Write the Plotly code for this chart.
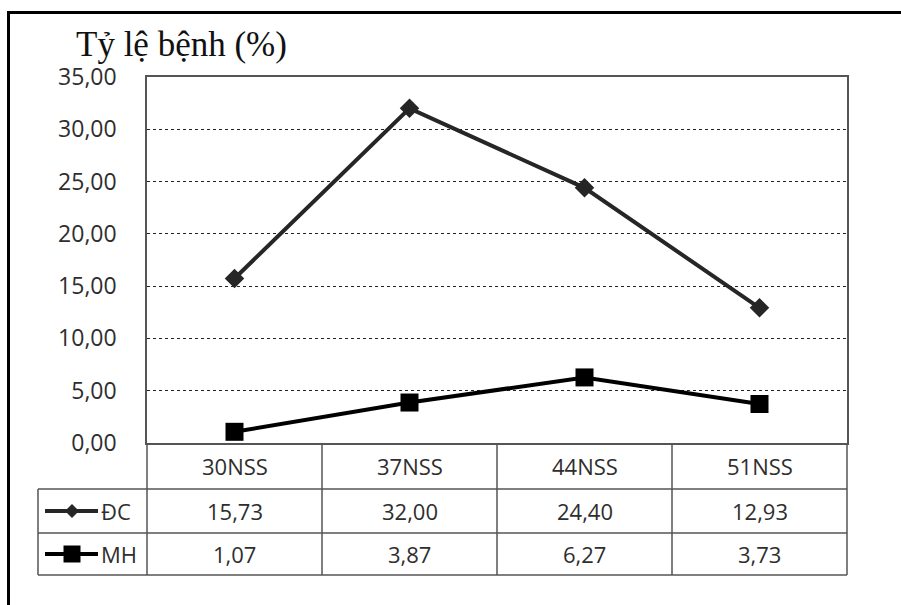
import plotly.graph_objects as go

# Data
categories = ["30NSS", "37NSS", "44NSS", "51NSS"]
series_names = ["ĐC", "MH"]
dc_values = [15.73, 32.00, 24.40, 12.93]
mh_values = [1.07, 3.87, 6.27, 3.73]
y_ticks = [0, 5, 10, 15, 20, 25, 30, 35]
title_text = "Tỷ lệ bệnh (%)"

W, H = 901, 605


def px(x):
    return x / W


def py(y):
    return 1 - y / H


# Layout geometry (pixels)
PLOT_L, PLOT_R, PLOT_T, PLOT_B = 147, 847, 77, 443
ROW1_B, ROW2_B, ROW3_B = 489, 533, 575
LEG_L = 38
col_edges = [PLOT_L + i * (PLOT_R - PLOT_L) / len(categories) for i in range(len(categories) + 1)]

SANS = "'Open Sans', Lato, sans-serif"
SERIF = "'Liberation Serif', 'DejaVu Serif', serif"
TEXT_COL = "#2e2e2e"
GRID_COL = "#555555"
TABLE_FONT = dict(family=SANS, size=22, color=TEXT_COL)


def fmt(v):
    return f"{v:.2f}".replace(".", ",")


fig = go.Figure()
fig.add_trace(go.Scatter(
    x=categories, y=dc_values, name=series_names[0], mode="lines+markers",
    line=dict(color="#262626", width=4),
    marker=dict(symbol="diamond", size=15, color="#262626"),
    showlegend=False, cliponaxis=False,
))
fig.add_trace(go.Scatter(
    x=categories, y=mh_values, name=series_names[1], mode="lines+markers",
    line=dict(color="#000000", width=4),
    marker=dict(symbol="square", size=18, color="#000000"),
    showlegend=False, cliponaxis=False,
))

shapes = []


def hline(x0, x1, y, color=GRID_COL, width=1.5):
    shapes.append(dict(type="line", xref="paper", yref="paper",
                       x0=px(x0), x1=px(x1), y0=py(y), y1=py(y),
                       line=dict(color=color, width=width)))


def vline(x, y0, y1, color=GRID_COL, width=1.5):
    shapes.append(dict(type="line", xref="paper", yref="paper",
                       x0=px(x), x1=px(x), y0=py(y0), y1=py(y1),
                       line=dict(color=color, width=width)))


# outer frame (left and top edges)
hline(7, W + 5, 12.5, color="#000000", width=3)
vline(8.5, 11, H + 5, color="#000000", width=3)

# data table grid
hline(LEG_L, PLOT_R, ROW1_B)
hline(LEG_L, PLOT_R, ROW2_B)
hline(LEG_L, PLOT_R, ROW3_B)
for x in col_edges:
    vline(x, PLOT_B, ROW3_B)
vline(LEG_L, ROW1_B, ROW3_B)

annotations = []

# legend keys inside the table
rows = [((ROW1_B + ROW2_B) / 2, dc_values, series_names[0], "diamond"),
        ((ROW2_B + ROW3_B) / 2, mh_values, series_names[1], "square")]
for yc, vals, name, sym in rows:
    color = "#262626" if sym == "diamond" else "#000000"
    hline(45, 98, yc, color=color, width=4)
    if sym == "diamond":
        d = 7
        shapes.append(dict(type="path", xref="paper", yref="paper",
                           path=f"M {px(72)} {py(yc - d)} L {px(72 + d)} {py(yc)} "
                                f"L {px(72)} {py(yc + d)} L {px(72 - d)} {py(yc)} Z",
                           fillcolor=color, line=dict(color=color, width=0)))
    else:
        s = 8.5
        shapes.append(dict(type="rect", xref="paper", yref="paper",
                           x0=px(72 - s), x1=px(72 + s), y0=py(yc - s), y1=py(yc + s),
                           fillcolor=color, line=dict(color=color, width=0)))
    annotations.append(dict(text=name, xref="paper", yref="paper",
                            x=px(99), y=py(yc), xanchor="left", yanchor="middle",
                            showarrow=False, font=TABLE_FONT))
    for cat, v in zip(categories, vals):
        annotations.append(dict(text=fmt(v), xref="x", yref="paper",
                                x=cat, y=py(yc), xanchor="center", yanchor="middle",
                                showarrow=False, font=TABLE_FONT))

# category labels row
for cat in categories:
    annotations.append(dict(text=cat, xref="x", yref="paper",
                            x=cat, y=py((PLOT_B + ROW1_B) / 2), xanchor="center", yanchor="middle",
                            showarrow=False, font=TABLE_FONT))

# chart title (axis caption)
annotations.append(dict(text=title_text, xref="paper", yref="paper",
                        x=px(74), y=py(45), xanchor="left", yanchor="middle",
                        showarrow=False, font=dict(family=SERIF, size=35, color="#111111")))

fig.update_layout(
    template="none",
    width=W, height=H, autosize=False,
    margin=dict(l=0, r=0, t=0, b=0, pad=0),
    paper_bgcolor="white", plot_bgcolor="white",
    separators=",.",
    shapes=shapes,
    annotations=annotations,
    xaxis=dict(
        domain=[px(PLOT_L), px(PLOT_R)],
        type="category", range=[-0.5, len(categories) - 0.5],
        showticklabels=False, showgrid=False, zeroline=False, automargin=False,
        showline=True, mirror=True, linecolor=GRID_COL, linewidth=1.5,
        ticks="", fixedrange=True,
    ),
    yaxis=dict(
        domain=[py(PLOT_B), py(PLOT_T)],
        range=[0, 35], tickvals=y_ticks, tickformat=".2f",
        showgrid=True, gridcolor="#222222", gridwidth=1, griddash="dot",
        zeroline=False, showline=True, mirror=True, linecolor=GRID_COL, linewidth=1.5,
        ticks="", ticklabelstandoff=24, automargin=False,
        tickfont=dict(family=SANS, size=23, color=TEXT_COL),
        fixedrange=True,
    ),
)

fig.write_html("out.html")
